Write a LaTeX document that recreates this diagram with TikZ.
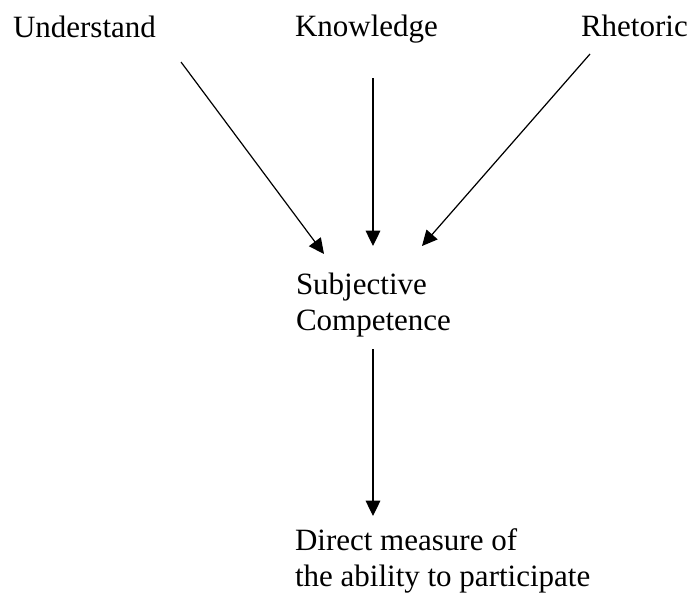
\documentclass[tikz,border=0pt]{standalone}
\usepackage{fontspec}
\setmainfont{Liberation Serif}
\usetikzlibrary{arrows.meta}
\begin{document}
\begin{tikzpicture}[x=0.75pt,y=-0.75pt,
  lbl/.style={inner sep=0pt,outer sep=0pt,anchor=base west,align=left,
    font=\fontsize{23.25pt}{27pt}\selectfont},
  conn/.style={line width=0.9pt,-{Triangle[length=11.5pt,width=11pt]}}]
\useasboundingbox (0,0) rectangle (688,594);
\node[lbl] (und) at (13,37) {Understand};
\node[lbl] (kno) at (295,36) {Knowledge};
\node[lbl] (rhe) at (581,36) {Rhetoric};
\node[lbl] (sub) at (296,330) {Subjective\\Competence};
\node[lbl] (dir) at (295,586) {Direct measure of\\the ability to participate};
\coordinate (und-s) at (181,62);
\coordinate (kno-s) at (373,78);
\coordinate (rhe-s) at (590,54);
\coordinate (sub-u) at (324,254);
\coordinate (sub-k) at (373,246);
\coordinate (sub-r) at (422,246);
\coordinate (sub-s) at (373,349);
\coordinate (dir-t) at (373,516);
\draw[conn] (und-s) -- (sub-u);
\draw[conn] (kno-s) -- (sub-k);
\draw[conn] (rhe-s) -- (sub-r);
\draw[conn] (sub-s) -- (dir-t);
\end{tikzpicture}
\end{document}
